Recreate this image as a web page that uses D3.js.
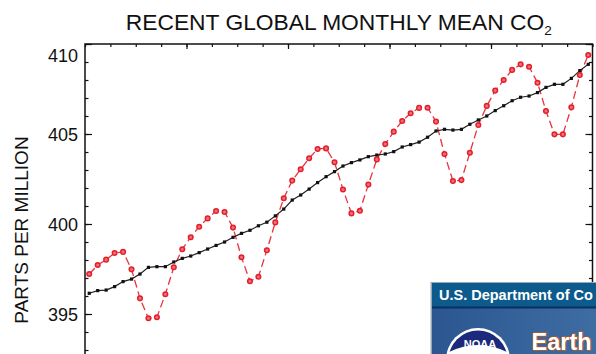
<!DOCTYPE html>
<html>
<head>
<meta charset="utf-8">
<script src="https://cdn.jsdelivr.net/npm/d3@7"></script>
<style>
  body { margin: 0; background: #ffffff; }
  svg { display: block; font-family: "Liberation Sans", Arial, Helvetica, sans-serif; }
</style>
</head>
<body>
<svg id="chart" width="596" height="354"></svg>
<script>
// Monthly index across a five-year window (0 = first month shown)
const monthIndex = d3.range(60);

// Global monthly mean CO2 (ppm), red dashed series
const monthlyMean = [
  397.22, 397.72, 398.02, 398.39, 398.45, 397.48, 395.87, 394.76, 394.82, 396.10, 397.60, 398.60,
  399.26, 399.85, 400.31, 400.72, 400.67, 399.80, 398.15, 396.82, 397.07, 398.54, 400.09, 401.43,
  402.41, 403.04, 403.65, 404.17, 404.20, 403.43, 401.92, 400.59, 400.74, 402.19, 403.59, 404.44,
  405.13, 405.72, 406.15, 406.45, 406.46, 405.69, 403.89, 402.39, 402.44, 403.96, 405.50, 406.56,
  407.41, 408.00, 408.56, 408.87, 408.74, 407.85, 406.28, 404.98, 404.98, 406.48, 408.28, 409.39
];

// Seasonally corrected trend (ppm), black series
const trend = [
  396.15, 396.30, 396.33, 396.52, 396.80, 396.94, 397.22, 397.59, 397.63, 397.63, 397.89, 398.09,
  398.22, 398.41, 398.61, 398.81, 399.00, 399.26, 399.48, 399.65, 399.90, 400.10, 400.45, 400.83,
  401.33, 401.61, 401.94, 402.30, 402.63, 402.91, 403.22, 403.41, 403.56, 403.74, 403.83, 403.89,
  404.02, 404.28, 404.41, 404.55, 404.82, 405.17, 405.26, 405.22, 405.26, 405.54, 405.78, 406.00,
  406.30, 406.57, 406.85, 407.04, 407.11, 407.30, 407.59, 407.76, 407.76, 408.09, 408.52, 408.87
];

const yLabelTicks = [395, 400, 405, 410];
const yMajorTicks = [390, 395, 400, 405, 410];
const yMinorTicks = d3.range(390, 411, 1);
const xMajorTicks = [12, 24, 36, 48];
const xMinorTicks = d3.range(0, 61, 3);

const titleMain = "RECENT GLOBAL MONTHLY MEAN CO";
const titleSub = "2";
const yTitle = "PARTS PER MILLION";

const svg = d3.select("#chart");

const plotLeft = 85, plotRight = 592.5, plotTop = 44;
const x = d3.scaleLinear().domain([0, 60]).range([plotLeft, plotRight]);
const y = d3.scaleLinear().domain([390, 410]).range([plotTop + 20 * 18, plotTop]);
const plotBottom = y(390);

// Title
const title = svg.append("text")
  .attr("x", (plotLeft + plotRight) / 2)
  .attr("y", 30)
  .attr("text-anchor", "middle")
  .attr("font-size", 22.8)
  .attr("fill", "#111");
title.append("tspan").text(titleMain);
title.append("tspan").attr("dy", 5).attr("font-size", 13.5).text(titleSub);

// Y axis title
svg.append("text")
  .attr("transform", "translate(28,230) rotate(-90)")
  .attr("text-anchor", "middle")
  .attr("font-size", 19)
  .attr("fill", "#111")
  .text(yTitle);

// Axes: minor and major ticks on all four sides, pointing inward
function styleAxis(g) {
  g.selectAll(".domain").remove();
  g.selectAll(".tick line").attr("stroke", "#111").attr("stroke-width", 1.2);
}

svg.append("g").attr("transform", `translate(${plotLeft},0)`)
  .call(d3.axisLeft(y).tickValues(yMinorTicks).tickSize(-3.5).tickFormat(""))
  .call(styleAxis);
svg.append("g").attr("transform", `translate(${plotLeft},0)`)
  .call(d3.axisLeft(y).tickValues(yMajorTicks).tickSize(-7).tickFormat(""))
  .call(styleAxis);
svg.append("g").attr("transform", `translate(${plotLeft},0)`)
  .call(d3.axisLeft(y).tickValues(yLabelTicks).tickSize(0).tickPadding(7).tickFormat(d3.format("d")))
  .call(styleAxis)
  .call(g => g.selectAll("text")
    .attr("font-size", 18)
    .attr("font-family", "Liberation Sans, Arial, sans-serif")
    .attr("fill", "#111")
    .attr("dy", d => d === 410 ? "0.95em" : "0.36em"));

svg.append("g").attr("transform", `translate(${plotRight},0)`)
  .call(d3.axisRight(y).tickValues(yMinorTicks).tickSize(-3.5).tickFormat(""))
  .call(styleAxis);
svg.append("g").attr("transform", `translate(${plotRight},0)`)
  .call(d3.axisRight(y).tickValues(yMajorTicks).tickSize(-7).tickFormat(""))
  .call(styleAxis);

svg.append("g").attr("transform", `translate(0,${plotTop})`)
  .call(d3.axisTop(x).tickValues(xMinorTicks).tickSize(-3).tickFormat(""))
  .call(styleAxis);
svg.append("g").attr("transform", `translate(0,${plotTop})`)
  .call(d3.axisTop(x).tickValues(xMajorTicks).tickSize(-5).tickFormat(""))
  .call(styleAxis);

svg.append("g").attr("transform", `translate(0,${plotBottom})`)
  .call(d3.axisBottom(x).tickValues(xMinorTicks).tickSize(-3).tickFormat(""))
  .call(styleAxis);

// Plot frame
svg.append("rect")
  .attr("x", plotLeft).attr("y", plotTop)
  .attr("width", plotRight - plotLeft).attr("height", plotBottom - plotTop)
  .attr("fill", "none").attr("stroke", "#111").attr("stroke-width", 1.5);

const xm = i => x(i + 0.5);

// Monthly mean: red dashed line with round markers
svg.append("path")
  .datum(monthIndex)
  .attr("fill", "none")
  .attr("stroke", "#e8323c")
  .attr("stroke-width", 1.3)
  .attr("stroke-dasharray", "8,4")
  .attr("d", d3.line().x(i => xm(i)).y(i => y(monthlyMean[i])));

// Trend: black solid line with square markers
svg.append("path")
  .datum(monthIndex)
  .attr("fill", "none")
  .attr("stroke", "#222")
  .attr("stroke-width", 1.2)
  .attr("d", d3.line().x(i => xm(i)).y(i => y(trend[i])));

svg.append("g").selectAll("rect")
  .data(monthIndex).join("rect")
  .attr("x", i => xm(i) - 1.6).attr("y", i => y(trend[i]) - 1.6)
  .attr("width", 3.2).attr("height", 3.2)
  .attr("fill", "#111");

svg.append("g").selectAll("circle")
  .data(monthIndex).join("circle")
  .attr("cx", i => xm(i)).attr("cy", i => y(monthlyMean[i]))
  .attr("r", 2.3)
  .attr("fill", "#ef6f78")
  .attr("stroke", "#e41e2b")
  .attr("stroke-width", 1.5);

// Department of Commerce / NOAA banner in the lower right corner
const defs = svg.append("defs");
const grad = defs.append("linearGradient").attr("id", "bannerBlue")
  .attr("x1", 0).attr("x2", 1).attr("y1", 0).attr("y2", 0);
grad.append("stop").attr("offset", 0).attr("stop-color", "#2b5690");
grad.append("stop").attr("offset", 1).attr("stop-color", "#3f6ea3");

const banner = svg.append("g");
banner.append("rect").attr("x", 430.5).attr("y", 282).attr("width", 170).attr("height", 80)
  .attr("fill", "#9aa7b5");
banner.append("rect").attr("x", 432).attr("y", 283).attr("width", 170).attr("height", 80)
  .attr("fill", "url(#bannerBlue)");
banner.append("rect").attr("x", 432).attr("y", 283).attr("width", 170).attr("height", 24)
  .attr("fill", "#0c5b8c");
banner.append("rect").attr("x", 432).attr("y", 306.5).attr("width", 170).attr("height", 2)
  .attr("fill", "#0a2f63");
banner.append("text")
  .attr("x", 439).attr("y", 300)
  .attr("font-size", 14.5).attr("font-weight", "bold")
  .attr("fill", "#ffffff")
  .text("U.S. Department of Co");

// NOAA emblem
banner.append("circle").attr("cx", 478).attr("cy", 360).attr("r", 32).attr("fill", "#ffffff");
banner.append("circle").attr("cx", 478).attr("cy", 360).attr("r", 29.5).attr("fill", "#1b2a7d");
banner.append("path")
  .attr("d", "M449,352 Q478,338 507,352 L507,362 Q478,348 449,362 Z")
  .attr("fill", "#ffffff");
banner.append("text")
  .attr("x", 480).attr("y", 348)
  .attr("text-anchor", "middle")
  .attr("font-size", 11).attr("font-weight", "bold")
  .attr("fill", "#ffffff")
  .text("NOAA");

// Lab name with a warm outline
banner.append("text")
  .attr("x", 531.5).attr("y", 350)
  .attr("font-size", 23.5).attr("font-weight", "bold")
  .attr("fill", "#ffffff")
  .attr("stroke", "#b4581c")
  .attr("stroke-width", 1.6)
  .attr("paint-order", "stroke")
  .text("Earth");
</script>
</body>
</html>
